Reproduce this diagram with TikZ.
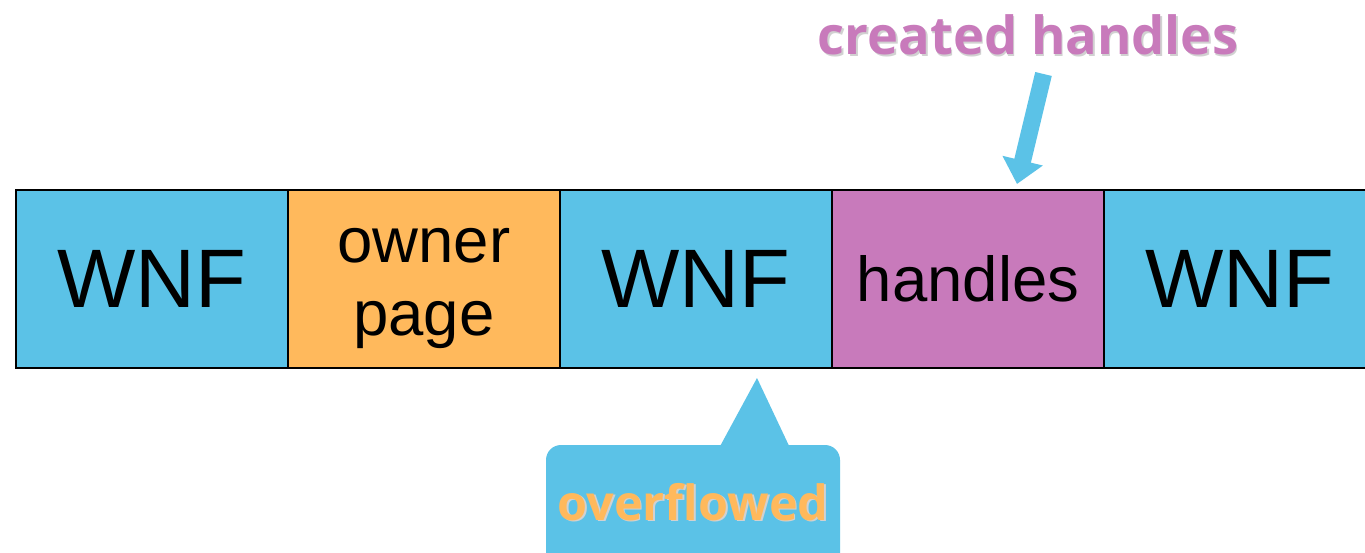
\documentclass[tikz,border=0pt]{standalone}
\usepackage{fontspec}
\setmainfont{Liberation Sans}
\newfontfamily\labelfont{Open Sans}
\usetikzlibrary{arrows.meta}
\definecolor{cblue}{RGB}{91,194,231}
\definecolor{corange}{RGB}{255,185,92}
\definecolor{cpink}{RGB}{200,122,187}
\tikzset{
  cell/.style={draw=black, line width=2pt, minimum width=272pt, minimum height=178pt, inner sep=0pt, text=black},
  bigtxt/.style={font=\fontsize{83}{90}\selectfont},
  midtxt/.style={font=\fontsize{63.5}{73}\selectfont, align=center},
  hlabel/.style={anchor=base, font=\labelfont\bfseries\fontsize{52.5}{60}\selectfont},
  olabel/.style={anchor=base, font=\labelfont\bfseries\fontsize{48.5}{56}\selectfont},
  shadowtxt/.style={text=black!18},
}
\begin{document}
\begin{tikzpicture}[x=1pt,y=-1pt]
\useasboundingbox (0,0) rectangle (1365,553);
\fill[white] (0,0) rectangle (1365,553);
% cells
\node[cell, fill=cblue, bigtxt] (c1) at (152,279) {WNF};
\node[cell, fill=corange] (c2) at (424,279) {};
\node[midtxt, inner sep=0pt] (c2t) at (424,289) {owner\\page};
\node[cell, fill=cblue, bigtxt] (c3) at (696,279) {WNF};
\node[cell, fill=cpink, midtxt] (c4) at (968,279) {handles};
\node[cell, fill=cblue, bigtxt] (c5) at (1240,279) {WNF};
% created handles label
\node[hlabel, shadowtxt] at (1029.5,56.5) {created handles};
\node[hlabel, text=cpink] (lab) at (1028,55) {created handles};
% arrow
\coordinate (atail) at (1043.5,74);
\coordinate (atip) at (1017,184);
\draw[cblue, line width=17pt, -{Triangle[width=40pt,length=24pt]}] (atail) -- (atip);
% callout
\coordinate (ptip) at (757,378);
\fill[cblue] (718,450) -- (ptip) -- (791,450) -- cycle;
\fill[cblue, rounded corners=15pt] (546,445) rectangle (840,575);
\node[olabel, shadowtxt] at (694.5,521.5) {overflowed};
\node[olabel, text=corange] (over) at (693,520) {overflowed};
\end{tikzpicture}
\end{document}
